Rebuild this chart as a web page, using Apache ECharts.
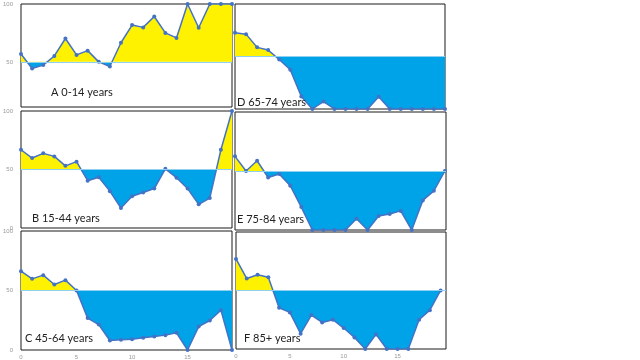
<!DOCTYPE html>
<html><head><meta charset="utf-8">
<script src="https://cdn.jsdelivr.net/npm/echarts@6/dist/echarts.min.js"></script>
<style>html,body{margin:0;padding:0;background:#fff}#c{width:640px;height:360px}</style>
</head><body><div id="c"></div>
<script>
// ---- data ----
const xs = [0,1,2,3,4,5,6,7,8,9,10,11,12,13,14,15,16,17,18,19];
const panelNames = ['A 0-14 years','B 15-44 years','C 45-64 years','D 65-74 years','E 75-84 years','F 85+ years'];
const valuesA = [56.8,44.3,47.2,55.1,70.2,56.0,59.7,50.0,46.0,66.5,81.8,79.8,89.2,75.0,70.7,100,79.5,100,100,100];
const valuesB = [66.9,59.8,63.8,61.2,53.1,56.7,40.4,43.3,31.5,17.1,27.2,30.3,33.7,50.6,43.0,33.7,20.2,25.6,66.9,100];
const valuesC = [66.2,59.8,62.9,55.0,58.7,50.0,26.8,21.4,8.0,8.6,9.1,10.2,11.3,12.5,14.4,0,19.7,24.8,33.5,0];
const valuesD = [72.6,71.3,58.7,56.1,47.1,37.4,11.9,0,7.1,0,0,0,0,11.6,0,0,0,0,0,0];
const valuesE = [62.4,50.0,58.7,44.5,47.4,37.6,19.4,0,0,0,0,9.5,0,11.8,13.6,16.2,0,25.1,33.2,50.0];
const valuesF = [77.0,60.2,63.4,61.4,35.2,31.3,13.1,29.0,22.7,25.0,17.9,9.9,0,12.5,0,0,0,25.0,33.2,50.0];
const threshold = 50;
const yTickLabelsTop = [50,100];
const yTickLabels = [0,50,100];
const xTickLabels = [0,5,10,15];

const allValues = [valuesA,valuesB,valuesC,valuesD,valuesE,valuesF];

// ---- layout ----
const layouts = [
  {left:21, top:4,   width:211, height:103, ymin:11, xmax:19,   yl:yTickLabelsTop, xl:false, tx:51,  ty:94},
  {left:21, top:111, width:211, height:117, ymin:0,  xmax:19,   yl:yTickLabels,    xl:false, tx:32,  ty:220},
  {left:21, top:231, width:211, height:119, ymin:0,  xmax:19,   yl:yTickLabels,    xl:true,  tx:25,  ty:340},
  {left:235, top:4,  width:210, height:105, ymin:0,  xmax:19,   yl:null,           xl:false, tx:237, ty:104},
  {left:235, top:112,width:211, height:118, ymin:0,  xmax:19.1, yl:null,           xl:false, tx:237, ty:221},
  {left:236, top:232,width:210, height:117, ymin:0,  xmax:19.5, yl:null,           xl:true,  tx:244, ty:340}
];

const grid = [], xAxis = [], yAxis = [], series = [], graphic = [], areaIdx = [];
layouts.forEach((L, i) => {
  grid.push({left:L.left, top:L.top, width:L.width, height:L.height, show:true,
    borderColor:'#1a1a1a', borderWidth:1, backgroundColor:'#fff', containLabel:false});
  xAxis.push({type:'value', gridIndex:i, min:0, max:L.xmax,
    axisLine:{show:false}, axisTick:{show:false}, splitLine:{show:false},
    axisLabel: L.xl ? {show:true, customValues:xTickLabels, fontSize:6, color:'#999', margin:4, fontFamily:'Liberation Sans'} : {show:false}});
  yAxis.push({type:'value', gridIndex:i, min:L.ymin, max:100,
    axisLine:{show:false}, axisTick:{show:false}, splitLine:{show:false},
    axisLabel: L.yl ? {show:true, customValues:L.yl, fontSize:6, color:'#999', margin:8, fontFamily:'Liberation Sans'} : {show:false}});
  const pts = xs.map((x, k) => [x, allValues[i][k]]);
  areaIdx.push(series.length);
  series.push({type:'line', xAxisIndex:i, yAxisIndex:i, data:pts, symbol:'none', silent:true,
    lineStyle:{width:0}, areaStyle:{origin:threshold, opacity:1}, z:1,
    markLine:{silent:true, symbol:'none', label:{show:false},
      lineStyle:{color:'#8fd0f0', width:1, type:'solid'}, data:[{yAxis:threshold}]}});
  series.push({type:'line', xAxisIndex:i, yAxisIndex:i, data:pts, symbol:'circle', symbolSize:4,
    lineStyle:{color:'#4472C4', width:1.5}, itemStyle:{color:'#4472C4'}, z:3, silent:true});
  graphic.push({type:'text', left:L.tx, top:L.ty - 7, z:10,
    style:{text:panelNames[i], font:'11px Lato', fill:'#222'}});
});

const chart = echarts.init(document.getElementById('c'), null, {renderer:'canvas'});
chart.setOption({
  animation:false,
  backgroundColor:'#fff',
  grid, xAxis, yAxis, series, graphic,
  visualMap:{type:'piecewise', show:false, dimension:1, seriesIndex:areaIdx,
    pieces:[{gt:threshold, lte:1000, color:'#FFF200'},{gte:-1000, lte:threshold, color:'#00A2E8'}]}
});
</script></body></html>
